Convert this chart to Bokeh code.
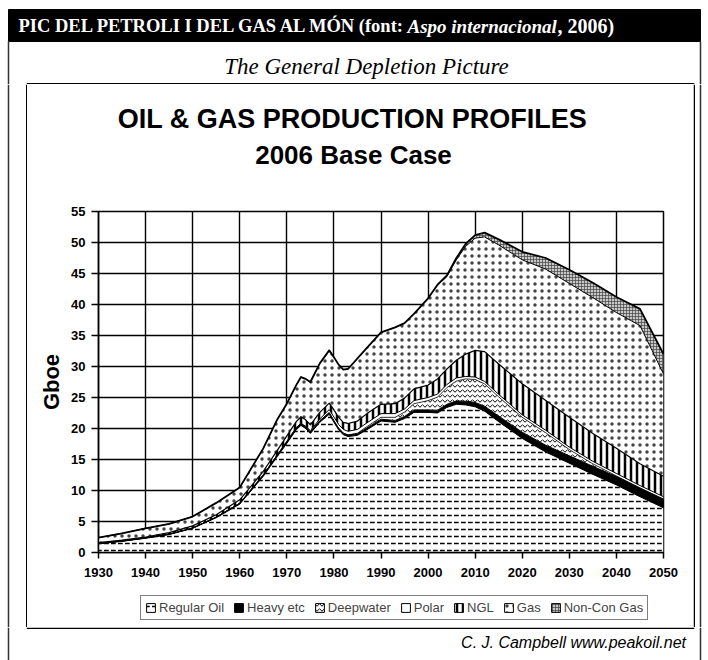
from bokeh.plotting import figure
from bokeh.layouts import column, row
from bokeh.models import (ColumnDataSource, Legend, LegendItem, FixedTicker, Range1d)
from bokeh.core.properties import value
from bokeh.transform import stack
from bokeh.embed import file_html
from bokeh.resources import INLINE

# ---------------- data (Gboe per year) ----------------
years = [1930, 1935, 1940, 1945, 1950, 1955, 1960, 1965, 1968, 1970,
         1972, 1973, 1974, 1975, 1977, 1979, 1980, 1981, 1982, 1983,
         1985, 1987, 1990, 1993, 1995, 1997, 2000, 2002, 2004, 2006,
         2008, 2010, 2012, 2015, 2020, 2025, 2030, 2035, 2040, 2045, 2050]
regular_oil = [1.4, 1.8, 2.3, 2.9, 3.9, 5.6, 7.8, 12.3, 15.5, 17.6,
               19.8, 20.5, 20.0, 19.2, 21.0, 22.3, 21.0, 19.8, 19.0, 18.7,
               18.9, 19.8, 21.2, 21.0, 21.6, 22.6, 22.6, 22.5, 23.4, 23.9,
               23.8, 23.5, 22.8, 21.1, 18.4, 16.2, 14.4, 12.6, 10.9, 9.0, 7.2]
heavy_etc = [0.05, 0.05, 0.05, 0.05, 0.05, 0.1, 0.15, 0.2, 0.25, 0.25,
             0.25, 0.25, 0.25, 0.25, 0.25, 0.25, 0.25, 0.25, 0.25, 0.25,
             0.25, 0.3, 0.3, 0.3, 0.35, 0.4, 0.4, 0.45, 0.5, 0.55,
             0.6, 0.7, 0.8, 0.9, 1.0, 1.1, 1.2, 1.3, 1.35, 1.4, 1.4]
deepwater = [0, 0, 0, 0, 0, 0, 0, 0, 0, 0,
             0, 0, 0, 0, 0, 0, 0, 0, 0, 0,
             0.1, 0.2, 0.3, 0.5, 0.7, 1.0, 1.5, 2.1, 2.7, 3.2,
             3.6, 3.7, 3.6, 3.1, 2.4, 2.0, 1.0, 0.4, 0.1, 0, 0]
polar = [0, 0, 0, 0, 0, 0, 0, 0, 0, 0.1,
         0.1, 0.1, 0.1, 0.2, 0.3, 0.5, 0.6, 0.6, 0.6, 0.6,
         0.6, 0.6, 0.6, 0.6, 0.5, 0.5, 0.5, 0.5, 0.5, 0.5,
         0.4, 0.4, 0.4, 0.4, 0.4, 0.4, 0.4, 0.4, 0.4, 0.4, 0.4]
ngl = [0.15, 0.15, 0.15, 0.25, 0.35, 0.4, 0.55, 0.6, 0.75, 0.85,
       0.95, 1.05, 1.05, 0.95, 1.05, 1.05, 1.15, 1.15, 1.15, 1.25,
       1.35, 1.5, 1.5, 1.6, 1.75, 1.9, 2.0, 2.45, 2.5, 2.85,
       3.6, 4.3, 4.8, 4.9, 5.0, 4.8, 4.8, 4.5, 4.05, 3.5, 3.3]
gas = [0.8, 1.1, 1.4, 1.4, 1.5, 1.9, 2.0, 3.7, 5.0, 5.2,
       5.9, 6.4, 6.6, 6.9, 7.9, 8.5, 8.5, 8.5, 8.5, 8.8,
       10.1, 10.6, 11.6, 12.3, 12.1, 12.1, 14.0, 15.1, 14.9, 16.2,
       17.4, 18.1, 18.5, 19.2, 20.0, 21.2, 21.6, 21.9, 21.9, 22.3, 16.5]
non_con_gas = [0, 0, 0, 0, 0, 0, 0, 0, 0, 0,
               0, 0, 0, 0, 0, 0, 0, 0, 0, 0,
               0, 0, 0, 0, 0, 0, 0, 0.1, 0.2, 0.3,
               0.4, 0.5, 0.7, 0.9, 1.3, 1.8, 2.2, 2.4, 2.5, 2.7, 3.2]

series_keys = ["regular", "heavy", "deep", "polar", "ngl", "gas", "noncon"]
series_labels = ["Regular Oil", "Heavy etc", "Deepwater", "Polar", "NGL", "Gas", "Non-Con Gas"]
x_ticks = [1930, 1940, 1950, 1960, 1970, 1980, 1990, 2000, 2010, 2020, 2030, 2040, 2050]
y_ticks = [0, 5, 10, 15, 20, 25, 30, 35, 40, 45, 50, 55]

header_text = ["PIC DEL PETROLI I DEL GAS AL MÓN (font:", "Aspo internacional", ", 2006)"]
subtitle_text = "The General Depletion Picture"
title_lines = ["OIL & GAS PRODUCTION PROFILES", "2006 Base Case"]
credit_text = "C. J. Campbell  www.peakoil.net"

source = ColumnDataSource(dict(year=years, regular=regular_oil, heavy=heavy_etc,
                               deep=deepwater, polar=polar, ngl=ngl, gas=gas,
                               noncon=non_con_gas))

PAGE_W, PAGE_H = 708, 660
BOX_L, BOX_R, BOX_T, BOX_B = 27, 693, 84, 627
OUT_L, OUT_R = 8, 700
PLOT_T, PLOT_B = 203, 590
FR_L, FR_R, FR_T, FR_B = 98, 663, 211, 552


def deco_fig(x0, x1, y0, y1, bl=0, br=0):
    """A blank figure in page pixel coordinates; frame spans x0..x1 (borders bl/br outside)."""
    f = figure(width=(x1 - x0) + bl + br, height=y1 - y0, output_backend="svg",
               toolbar_location=None, x_range=Range1d(x0, x1), y_range=Range1d(y1, y0),
               x_axis_type=None, y_axis_type=None, min_border=0,
               min_border_left=bl, min_border_right=br,
               background_fill_color="white", border_fill_color="white")
    f.outline_line_color = None
    return f


styles = [
    dict(fill_color="white", hatch_pattern="horizontal_dash", hatch_scale=7,
         hatch_weight=1.5, hatch_color="black"),
    dict(fill_color="black"),
    dict(fill_color="white", hatch_pattern="horizontal_wave", hatch_scale=5,
         hatch_weight=1.0, hatch_color="black"),
    dict(fill_color="white"),
    dict(fill_color="white", hatch_pattern="vertical_line", hatch_scale=6,
         hatch_weight=2.5, hatch_color="black"),
    dict(fill_color="white", hatch_pattern="dot", hatch_scale=7,
         hatch_weight=1.0, hatch_color="#444444"),
    dict(fill_color="#c8c8c8", hatch_pattern="cross", hatch_scale=3,
         hatch_weight=0.7, hatch_color="#444444"),
]

# ---------------- header (page y 0..84) ----------------
hdr = deco_fig(0, PAGE_W, 0, BOX_T)
hdr.quad(left=[OUT_L], right=[OUT_R], top=[9], bottom=[41], fill_color="black",
         line_color="black")
hdr.segment(x0=[OUT_L, OUT_R], y0=[41, 41], x1=[OUT_L, OUT_R], y1=[BOX_T, BOX_T],
            line_color="#333333", line_width=1.5)
hdr.segment(x0=[BOX_L - 0.75], y0=[BOX_T - 0.75], x1=[BOX_R + 0.75], y1=[BOX_T - 0.75],
            line_color="black", line_width=1.5)
hdr_parts = [(header_text[0], "bold", 18, "18.5px"),
             (header_text[1], "bold italic", 407, "19px"),
             (header_text[2], "bold", 557, "20px")]
for txt, style, px, fs in hdr_parts:
    hdr.text(x=[px], y=[25.5], text=[txt], text_font=value("Liberation Serif"),
             text_font_style=style, text_font_size=fs, text_color="white",
             text_align="left", text_baseline="middle")
hdr.text(x=[366], y=[66], text=[subtitle_text], text_font=value("Liberation Serif"),
         text_font_style="italic", text_font_size="23px", text_color="black",
         text_align="center", text_baseline="middle")

# ---------------- side strips ----------------
left_strip = deco_fig(0, BOX_L, BOX_T, BOX_B)
left_strip.segment(x0=[OUT_L, BOX_L - 0.75], y0=[BOX_T, BOX_T], x1=[OUT_L, BOX_L - 0.75],
                   y1=[BOX_B, BOX_B], line_color=["#333333", "black"], line_width=1.5)
right_strip = deco_fig(BOX_R, PAGE_W, BOX_T, BOX_B)
right_strip.segment(x0=[BOX_R + 0.75, OUT_R], y0=[BOX_T, BOX_T], x1=[BOX_R + 0.75, OUT_R],
                    y1=[BOX_B, BOX_B], line_color=["black", "#333333"], line_width=1.5)

# ---------------- chart title (page y 84..203); frame aligned with plot frame ----------------
ttl = deco_fig(FR_L, FR_R, BOX_T, PLOT_T, bl=FR_L - BOX_L, br=BOX_R - FR_R)
ttl.text(x=[352], y=[118], text=[title_lines[0]], text_font=value("Liberation Sans"),
         text_font_style="bold", text_font_size="27px", text_color="black",
         text_align="center", text_baseline="middle")
ttl.text(x=[353], y=[154], text=[title_lines[1]], text_font=value("Liberation Sans"),
         text_font_style="bold", text_font_size="26px", text_color="black",
         text_align="center", text_baseline="middle")

# ---------------- main plot (page y 203..590, x 27..693) ----------------
p = figure(width=BOX_R - BOX_L, height=PLOT_B - PLOT_T, output_backend="svg",
           toolbar_location=None, x_range=Range1d(1930, 2050), y_range=Range1d(0, 55),
           min_border_left=FR_L - BOX_L, min_border_right=BOX_R - FR_R,
           min_border_top=FR_T - PLOT_T, min_border_bottom=PLOT_B - FR_B,
           background_fill_color="white", border_fill_color="white")
p.outline_line_color = "black"
p.outline_line_width = 1.5

for i, key in enumerate(series_keys):
    y1 = 0 if i == 0 else stack(*series_keys[:i])
    p.varea(x="year", y1=y1, y2=stack(*series_keys[:i + 1]), source=source,
            **styles[i])

line_w = [1.0, 1.0, 0.8, 1.0, 1.2, 1.0, 1.8]
for i, key in enumerate(series_keys):
    p.line(x="year", y=stack(*series_keys[:i + 1]), source=source,
           line_color="black", line_width=line_w[i], line_join="round")

for ax in (p.xaxis, p.yaxis):
    ax.major_label_text_font = "Liberation Sans"
    ax.major_label_text_font_style = "bold"
    ax.major_label_text_font_size = "13px"
    ax.major_label_text_color = "black"
    ax.axis_line_color = "black"
    ax.axis_line_width = 1.5
    ax.major_tick_line_color = "black"
    ax.major_tick_line_width = 1.5
    ax.major_tick_in = 0
    ax.minor_tick_line_color = None
p.xaxis.ticker = FixedTicker(ticks=x_ticks)
p.yaxis.ticker = FixedTicker(ticks=y_ticks)
p.xaxis.major_tick_out = 6
p.yaxis.major_tick_out = 7
p.xaxis.major_label_standoff = 9
p.yaxis.major_label_standoff = 6
p.yaxis.axis_label = "Gboe"
p.yaxis.axis_label_text_font = "Liberation Sans"
p.yaxis.axis_label_text_font_style = "bold"
p.yaxis.axis_label_text_font_size = "22px"
p.yaxis.axis_label_text_color = "black"
p.yaxis.axis_label_standoff = 4

p.xgrid.ticker = FixedTicker(ticks=x_ticks)
p.ygrid.ticker = FixedTicker(ticks=y_ticks)
for g in (p.xgrid, p.ygrid):
    g.grid_line_color = "black"
    g.grid_line_width = 1.4

# ---------------- legend strip (page y 590..627); frame aligned with plot frame ----------------
leg = deco_fig(FR_L, FR_R, PLOT_B, BOX_B, bl=FR_L - BOX_L, br=BOX_R - FR_R)
items = []
for i, lab in enumerate(series_labels):
    # legend swatch proxies, placed outside the visible range
    r = leg.quad(left=[0], right=[1], top=[0], bottom=[1], line_color="black",
                 line_width=1, **styles[i])
    items.append(LegendItem(label=lab, renderers=[r]))
legend = Legend(items=items, orientation="horizontal", location=(140 - FR_L, BOX_B - 620),
                border_line_color="black", border_line_width=1.5,
                label_text_font="Liberation Sans", label_text_font_size="13px",
                glyph_width=11, glyph_height=11, label_standoff=3, spacing=9,
                padding=4, label_height=14, margin=0, background_fill_color="white")
leg.add_layout(legend, "center")

# ---------------- footer (page y 627..660) ----------------
ftr = deco_fig(0, PAGE_W, BOX_B, PAGE_H)
ftr.segment(x0=[BOX_L - 0.75], y0=[BOX_B + 0.75], x1=[BOX_R + 0.75], y1=[BOX_B + 0.75],
            line_color="black", line_width=1.5)
ftr.segment(x0=[OUT_L, OUT_R], y0=[BOX_B, BOX_B], x1=[OUT_L, OUT_R], y1=[PAGE_H, PAGE_H],
            line_color="#333333", line_width=1.5)
ftr.text(x=[690], y=[642], text=[credit_text], text_font=value("Liberation Sans"),
         text_font_style="italic", text_font_size="16px", text_color="black",
         text_align="right", text_baseline="middle")

layout = column(hdr,
                row(left_strip, column(ttl, p, leg, spacing=0), right_strip, spacing=0),
                ftr, spacing=0)

open("out.html", "w").write(file_html(layout, INLINE))
